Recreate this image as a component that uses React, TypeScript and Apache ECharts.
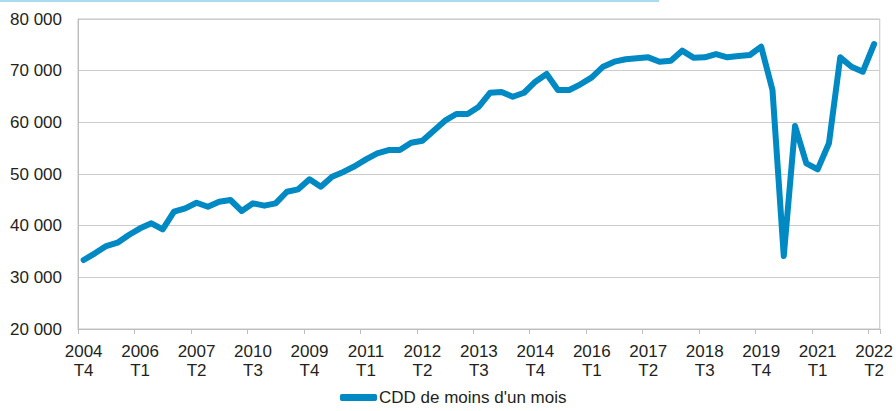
import React, { useEffect, useRef } from "react";
import * as echarts from "echarts";

// Quarterly categories, 2004 T4 .. 2022 T2
const categories: string[] = [
  "2004 T4",
  "2005 T1", "2005 T2", "2005 T3", "2005 T4",
  "2006 T1", "2006 T2", "2006 T3", "2006 T4",
  "2007 T1", "2007 T2", "2007 T3", "2007 T4",
  "2008 T1", "2008 T2", "2008 T3", "2008 T4",
  "2009 T1", "2009 T2", "2009 T3", "2009 T4",
  "2010 T1", "2010 T2", "2010 T3", "2010 T4",
  "2011 T1", "2011 T2", "2011 T3", "2011 T4",
  "2012 T1", "2012 T2", "2012 T3", "2012 T4",
  "2013 T1", "2013 T2", "2013 T3", "2013 T4",
  "2014 T1", "2014 T2", "2014 T3", "2014 T4",
  "2015 T1", "2015 T2", "2015 T3", "2015 T4",
  "2016 T1", "2016 T2", "2016 T3", "2016 T4",
  "2017 T1", "2017 T2", "2017 T3", "2017 T4",
  "2018 T1", "2018 T2", "2018 T3", "2018 T4",
  "2019 T1", "2019 T2", "2019 T3", "2019 T4",
  "2020 T1", "2020 T2", "2020 T3", "2020 T4",
  "2021 T1", "2021 T2", "2021 T3", "2021 T4",
  "2022 T1", "2022 T2",
];

// Tick labels as printed on the reference (every 5th quarter)
const tickLabels: string[] = [
  "2004\nT4", "2006\nT1", "2007\nT2", "2010\nT3", "2009\nT4",
  "2011\nT1", "2012\nT2", "2013\nT3", "2014\nT4", "2016\nT1",
  "2017\nT2", "2018\nT3", "2019\nT4", "2021\nT1", "2022\nT2",
];

const seriesName = "CDD de moins d'un mois";
const cddValues: number[] = [
  33350, 34650, 36060, 36700, 38190, 39490, 40460, 39300, 42700, 43350,
  44440, 43670, 44640, 44970, 42840, 44320, 43870, 44320, 46570, 47030,
  48970, 47540, 49480, 50400, 51500, 52840, 54000, 54640, 54640, 56060,
  56450, 58380, 60320, 61610, 61610, 63020, 65730, 65870, 64960, 65730,
  67860, 69350, 66250, 66250, 67360, 68710, 70770, 71740, 72200, 72390,
  72580, 71740, 71930, 73870, 72520, 72580, 73220, 72580, 72840, 73030,
  74640, 66250, 34130, 59290, 52070, 50900, 55940, 72580, 70770, 69800,
  75160,
];

const yTicks = { min: 20000, max: 80000, interval: 10000 };

const fontFamily = "'Liberation Sans', Arial, Helvetica, sans-serif";
const textColor = "#231f20";

export default function App() {
  const ref = useRef<HTMLDivElement>(null);
  useEffect(() => {
    if (!ref.current) return;
    const chart = echarts.init(ref.current, undefined, { renderer: "svg" });
    chart.setOption({
      animation: false,
      backgroundColor: "#ffffff",
      textStyle: { fontFamily },
      graphic: [
        {
          type: "rect",
          left: 0,
          top: 0,
          shape: { width: 659, height: 2 },
          style: { fill: "#a9dcef" },
          silent: true,
        },
      ],
      grid: {
        left: 78,
        top: 19,
        right: 14,
        bottom: 82,
        show: true,
        borderColor: "#c4c4c4",
        borderWidth: 1,
      },
      legend: {
        data: [seriesName],
        left: 340,
        top: 389,
        padding: 0,
        icon: "roundRect",
        itemWidth: 37,
        itemHeight: 7,
        textStyle: { fontSize: 17, color: textColor, fontFamily, padding: [0, 0, 0, -3] },
      },
      xAxis: {
        type: "category",
        data: categories,
        boundaryGap: true,
        axisLine: { show: true, lineStyle: { color: "#bdbdbd", width: 1 } },
        axisTick: { show: true, interval: 4, length: 5, lineStyle: { color: "#bdbdbd" } },
        axisLabel: {
          interval: 4,
          margin: 13,
          fontSize: 17,
          lineHeight: 19,
          color: textColor,
          fontFamily,
          formatter: (_v: string, idx: number) => tickLabels[Math.floor(idx / 5)] ?? "",
        },
        splitLine: { show: false },
      },
      yAxis: {
        type: "value",
        min: yTicks.min,
        max: yTicks.max,
        interval: yTicks.interval,
        axisLine: { show: true, lineStyle: { color: "#bdbdbd", width: 1 } },
        axisTick: { show: false },
        axisLabel: {
          margin: 16,
          fontSize: 17,
          color: textColor,
          fontFamily,
          formatter: (v: number) => String(v).replace(/\B(?=(\d{3})+(?!\d))/g, " "),
        },
        splitLine: { show: true, lineStyle: { color: "#cccccc", width: 1 } },
      },
      series: [
        {
          name: seriesName,
          type: "line",
          data: cddValues,
          showSymbol: false,
          symbol: "none",
          lineStyle: { color: "#0089c3", width: 6, join: "round", cap: "round" },
          itemStyle: { color: "#0089c3" },
        },
      ],
    });
    return () => chart.dispose();
  }, []);
  return (
    <div
      ref={ref}
      style={{ position: "fixed", left: 0, top: 0, width: 896, height: 411 }}
    />
  );
}
